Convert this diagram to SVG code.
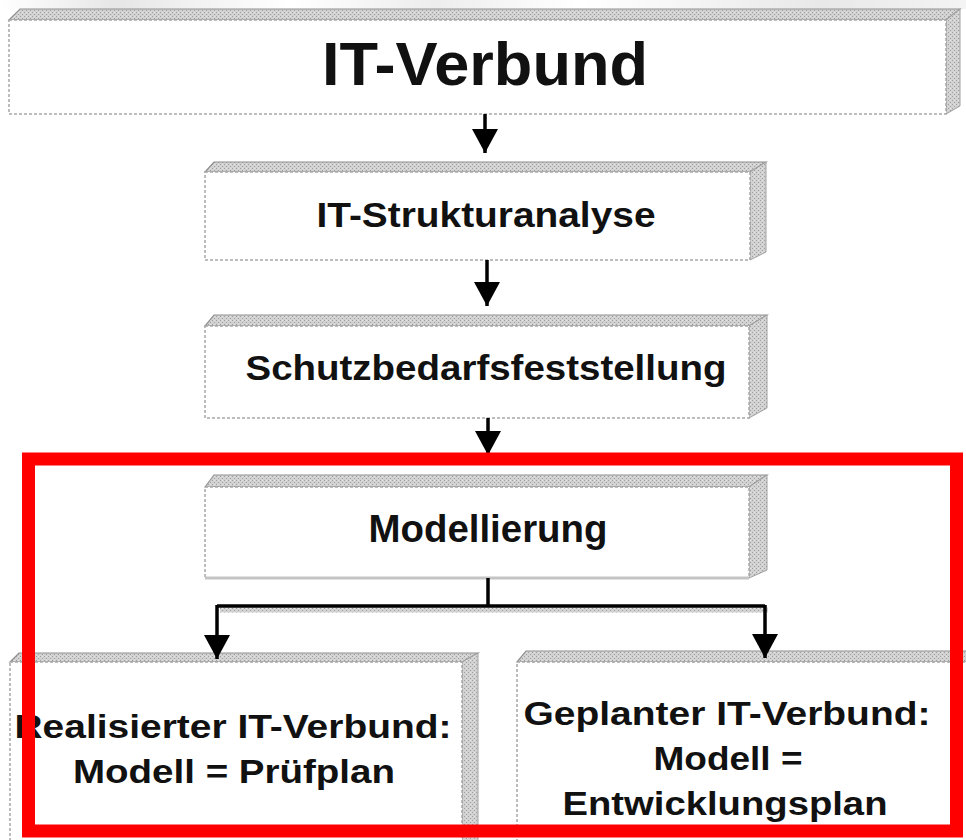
<svg xmlns="http://www.w3.org/2000/svg" width="966" height="840" viewBox="0 0 966 840">
  <defs>
    <pattern id="hatch" width="4" height="4" patternUnits="userSpaceOnUse">
      <rect width="4" height="4" fill="#d2d2d2"/>
      <rect x="0" y="0" width="1" height="1" fill="#9e9e9e"/>
      <rect x="2" y="2" width="1" height="1" fill="#9e9e9e"/>
      <rect x="2" y="0" width="1" height="1" fill="#e4e4e4"/>
    </pattern>
    <linearGradient id="haze" x1="0" y1="0" x2="1" y2="0">
      <stop offset="0" stop-color="#ffffff"/>
      <stop offset="0.12" stop-color="#e6e6e6"/>
      <stop offset="0.3" stop-color="#ffffff"/>
      <stop offset="0.45" stop-color="#ededed"/>
      <stop offset="0.6" stop-color="#ffffff"/>
      <stop offset="0.85" stop-color="#e8e8e8"/>
      <stop offset="1" stop-color="#f4f4f4"/>
    </linearGradient>
    <!-- arrowhead drawn along +x so orient="auto" turns it with the line -->
    <marker id="head" viewBox="0 0 24 26" refX="24" refY="13" markerWidth="24" markerHeight="26" markerUnits="userSpaceOnUse" orient="auto">
      <path d="M0,0 L24,13 L0,26 Z" fill="#000"/>
    </marker>
    <style>
      .front { fill: #ffffff; stroke: #a8a8a8; stroke-width: 1.5; stroke-dasharray: 3 2; }
      .bevel { fill: url(#hatch); stroke: #8f8f8f; stroke-width: 1.2; }
      .side  { fill: url(#hatch); stroke: #a0a0a0; stroke-width: 1; }
      .lbl   { font-family: "Liberation Sans", Arial, sans-serif; font-weight: bold; fill: #111; text-anchor: middle; }
      .wire  { fill: none; stroke: #000; stroke-width: 3.5; }
      .frame { fill: none; stroke: #ff0000; stroke-width: 13; }
    </style>
  </defs>

  <rect width="966" height="840" fill="#ffffff"/>
  <!-- soft grey band along the top edge -->
  <rect x="0" y="0" width="966" height="9" fill="url(#haze)"/>

  <!-- IT-Verbund -->
  <g id="it-verbund">
    <polygon class="bevel" points="9,20 20,9 960,9 946,20"/>
    <polygon class="side" points="946,20 960,9 960,106 946,114"/>
    <rect class="front" x="9" y="20" width="937" height="94"/>
    <text class="lbl" x="485" y="85" font-size="62" textLength="326" lengthAdjust="spacingAndGlyphs">IT-Verbund</text>
  </g>

  <!-- IT-Strukturanalyse -->
  <g id="strukturanalyse">
    <polygon class="bevel" points="205,172 214,162 766,162 750,172"/>
    <polygon class="side" points="750,172 766,162 766,252 750,260"/>
    <rect class="front" x="205" y="172" width="545" height="88"/>
    <text class="lbl" x="486" y="227" font-size="35" textLength="339" lengthAdjust="spacingAndGlyphs">IT-Strukturanalyse</text>
  </g>

  <!-- Schutzbedarfsfeststellung -->
  <g id="schutzbedarf">
    <polygon class="bevel" points="205,326 214,315 767,315 749,326"/>
    <polygon class="side" points="749,326 767,315 767,408 749,418"/>
    <rect class="front" x="205" y="326" width="544" height="92"/>
    <text class="lbl" x="486" y="380" font-size="35" textLength="481" lengthAdjust="spacingAndGlyphs">Schutzbedarfsfeststellung</text>
  </g>

  <!-- Modellierung -->
  <g id="modellierung">
    <polygon class="bevel" points="205,487 214,475 767,475 749,487"/>
    <polygon class="side" points="749,487 767,475 767,570 749,578"/>
    <rect class="front" x="205" y="487" width="544" height="91"/>
    <line x1="205" y1="578" x2="749" y2="578" stroke="#c4c4c4" stroke-width="3"/>
    <text class="lbl" x="488" y="542" font-size="38" textLength="239" lengthAdjust="spacingAndGlyphs">Modellierung</text>
  </g>

  <!-- Realisierter IT-Verbund -->
  <g id="realisiert">
    <polygon class="bevel" points="10,662 19,653 478,653 462,662"/>
    <polygon class="side" points="462,662 478,653 478,850 462,850"/>
    <rect class="front" x="10" y="662" width="452" height="200"/>
    <text class="lbl" x="233" y="738" font-size="34" textLength="437" lengthAdjust="spacingAndGlyphs">Realisierter IT-Verbund:</text>
    <text class="lbl" x="234" y="783" font-size="34" textLength="322" lengthAdjust="spacingAndGlyphs">Modell = Prüfplan</text>
  </g>

  <!-- Geplanter IT-Verbund -->
  <g id="geplant">
    <polygon class="bevel" points="517,662 526,651 990,651 980,662"/>
    <rect class="front" x="517" y="662" width="470" height="200"/>
    <text class="lbl" x="727" y="725" font-size="34" textLength="407" lengthAdjust="spacingAndGlyphs">Geplanter IT-Verbund:</text>
    <text class="lbl" x="728" y="770" font-size="34" textLength="149" lengthAdjust="spacingAndGlyphs">Modell =</text>
    <text class="lbl" x="725" y="815" font-size="34" textLength="325" lengthAdjust="spacingAndGlyphs">Entwicklungsplan</text>
  </g>

  <!-- connectors -->
  <g id="connectors">
    <line x1="220" y1="610" x2="768" y2="610" stroke="url(#hatch)" stroke-width="5"/>
    <path class="wire" d="M485,114 V153" marker-end="url(#head)"/>
    <path class="wire" d="M487,260 V306" marker-end="url(#head)"/>
    <path class="wire" d="M488,418 V455" marker-end="url(#head)"/>
    <path class="wire" d="M488,578 V606 M217,606 H765"/>
    <path class="wire" d="M217,605 V659" marker-end="url(#head)"/>
    <path class="wire" d="M765,605 V658" marker-end="url(#head)"/>
  </g>

  <!-- red highlight frame -->
  <rect class="frame" x="28.5" y="459" width="928" height="372"/>
</svg>
